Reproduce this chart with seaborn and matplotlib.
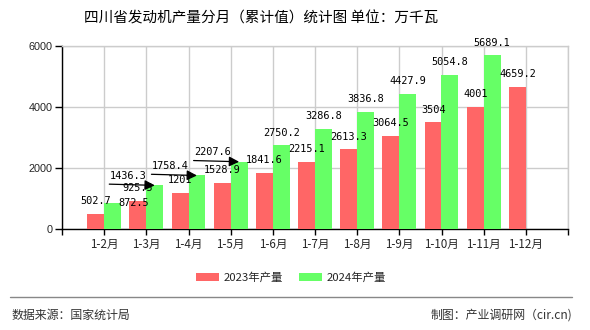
import matplotlib
matplotlib.use("Agg")
import matplotlib.pyplot as plt
import seaborn as sns
import pandas as pd
import numpy as np

# ---- data ----
categories = ["1-2月", "1-3月", "1-4月", "1-5月", "1-6月", "1-7月",
              "1-8月", "1-9月", "1-10月", "1-11月", "1-12月"]
series_names = ["2023年产量", "2024年产量"]
values_2023 = [502.7, 925.5, 1201, 1528.9, 1841.6, 2215.1, 2613.3, 3064.5, 3504, 4001, 4659.2]
values_2024 = [872.5, 1436.3, 1758.4, 2207.6, 2750.2, 3286.8, 3836.8, 4427.9, 5054.8, 5689.1, np.nan]
label_texts_2023 = ["502.7", "925.5", "1201", "1528.9", "1841.6", "2215.1", "2613.3", "3064.5", "3504", "4001", "4659.2"]
label_texts_2024 = ["872.5", "1436.3", "1758.4", "2207.6", "2750.2", "3286.8", "3836.8", "4427.9", "5054.8", "5689.1", ""]
y_ticks = [0, 2000, 4000, 6000]
title = "四川省发动机产量分月（累计值）统计图 单位：万千瓦"
source_text = "数据来源：国家统计局"
credit_text = "制图：产业调研网（cir.cn)"

df = pd.DataFrame({
    "月份": categories * 2,
    "产量": values_2023 + values_2024,
    "系列": [series_names[0]] * len(categories) + [series_names[1]] * len(categories),
})

colors = ["#FF6666", "#66FF66"]

sns.set_theme(style="white")
plt.rcParams["font.family"] = ["Noto Sans CJK SC", "DejaVu Sans"]

fig = plt.figure(figsize=(5.9, 3.3), dpi=100)
ax = fig.add_axes([62 / 590, 1 - 229.3 / 330, (568 - 62) / 590, (229.3 - 45.7) / 330])

sns.barplot(data=df, x="月份", y="产量", hue="系列", order=categories,
            hue_order=series_names, palette=colors, width=0.8, ax=ax,
            saturation=1, linewidth=0, errorbar=None, zorder=3)

ax.set_xlim(-1, len(categories))
ax.set_ylim(0, 6000)
ax.set_xticks(range(-1, len(categories) + 1))
ax.set_xticklabels([""] + categories + [""], fontsize=8.4,
                   family=["Noto Sans CJK SC"])
ax.set_yticks(y_ticks)
ax.set_yticklabels([str(v) for v in y_ticks], fontsize=7.8,
                   family=["Liberation Sans"])
ax.set_xlabel("")
ax.set_ylabel("")
ax.grid(True, color="#cccccc", linewidth=1, zorder=0)
ax.set_axisbelow(True)
ax.tick_params(axis="both", which="both", direction="out", length=5, width=1,
               color="black", pad=2, bottom=True, left=True)
ax.tick_params(axis="x", length=4, pad=2)
for s in ["left", "bottom"]:
    ax.spines[s].set_color("black")
    ax.spines[s].set_linewidth(1)
for s in ["top", "right"]:
    ax.spines[s].set_color("#cccccc")
    ax.spines[s].set_linewidth(1)

# legend
handles, labels = ax.get_legend_handles_labels()
if ax.legend_:
    ax.legend_.remove()
fig.legend(handles, labels, loc="center", bbox_to_anchor=(291 / 590, 1 - 277.5 / 330),
           ncol=2, frameon=False, handlelength=2.0, handleheight=0.75,
           handletextpad=0.4, columnspacing=1.4, borderpad=0,
           prop={"family": ["Noto Sans CJK SC"], "size": 8.2})

# bar value labels
special = {
    (1, 0): "right",
    (1, 1): "left_arrow",
    (1, 2): "left_arrow",
    (1, 3): "left_arrow",
}
all_texts = [label_texts_2023, label_texts_2024]
lab_font = dict(fontsize=7.4, family=["DejaVu Sans Mono"], color="black")
for si, cont in enumerate(ax.containers):
    for ci, patch in enumerate(cont.patches):
        h = patch.get_height()
        if np.isnan(h) or all_texts[si][ci] == "":
            continue
        xc = patch.get_x() + patch.get_width() / 2
        kind = special.get((si, ci), "normal")
        txt = all_texts[si][ci]
        if kind == "normal":
            ax.annotate(txt, (xc, h), xytext=(0, 12.5), textcoords="offset pixels",
                        ha="center", va="center", zorder=5, **lab_font)
        elif kind == "right":
            ax.annotate(txt, (xc, h), xytext=(21, 0), textcoords="offset pixels",
                        ha="center", va="center", zorder=5, **lab_font)
        else:
            ax.annotate(txt, (xc, h), xytext=(-26.5, 9.5), textcoords="offset pixels",
                        ha="center", va="center", zorder=5, **lab_font)
            ax.annotate("", (xc, h), xytext=(-45.5, 1.2), textcoords="offset pixels",
                        zorder=5,
                        arrowprops=dict(arrowstyle="-|>,head_length=0.5,head_width=0.25",
                                        color="black", lw=0.9, shrinkA=0, shrinkB=0))

# title
fig.text(261 / 590, 1 - 18 / 330, title, ha="center", va="center", fontsize=10.5,
         family=["Noto Sans CJK SC", "DejaVu Sans"], color="black")

# footer separator and texts
fig.add_artist(plt.Line2D([10 / 590, 572 / 590], [1 - 297.3 / 330] * 2,
                          transform=fig.transFigure, color="#888888", lw=1))
fig.text(12 / 590, 1 - 315 / 330, source_text, ha="left", va="center", fontsize=8.6,
         family=["Noto Sans CJK SC", "DejaVu Sans"], color="#333333")
fig.text(572 / 590, 1 - 315 / 330, credit_text, ha="right", va="center", fontsize=8.6,
         family=["Noto Sans CJK SC", "DejaVu Sans"], color="#333333")

fig.savefig("out.png", dpi=100)
